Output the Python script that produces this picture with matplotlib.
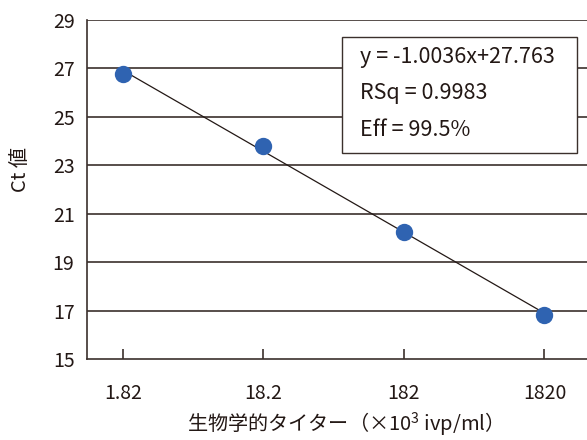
import numpy as np
import matplotlib
matplotlib.use('Agg')
import matplotlib.pyplot as plt

plt.rcParams['font.family'] = ['Noto Sans CJK JP', 'DejaVu Sans']
plt.rcParams['mathtext.fontset'] = 'custom'
plt.rcParams['mathtext.rm'] = 'Noto Sans CJK JP'

# data
titers = ['1.82', '18.2', '182', '1820']
ct_values = [26.77, 23.80, 20.23, 16.82]
fit_text = ['y = -1.0036x+27.763', 'RSq = 0.9983', 'Eff = 99.5%']

ink = '#3b302c'
txt = '#231815'
dot = '#2f63b1'

fig = plt.figure(figsize=(5.87, 4.40), dpi=100)
ax = fig.add_axes([87 / 587, 1 - 359 / 440, 520 / 587, 339 / 440])

idx = np.arange(len(titers))
# regression line over the data range
k, b = np.polyfit(idx, ct_values, 1)
ax.plot(idx, k * idx + b, color='#231815', lw=0.9, zorder=3)
ax.plot(idx, ct_values, 'o', color=dot, ms=12.5, mec='none', zorder=4)

ax.set_ylim(15, 29)
ax.set_yticks(range(15, 30, 2))
ax.set_xlim(-0.256, 3.445)
ax.set_xticks(idx)
ax.set_xticklabels(titers)

for y in range(17, 30, 2):
    ax.axhline(y, color=ink, lw=1.2, zorder=1)

for s in ['right', 'top']:
    ax.spines[s].set_visible(False)
for s in ['left', 'bottom']:
    ax.spines[s].set_color(ink)
    ax.spines[s].set_linewidth(1.2)

ax.tick_params(axis='y', length=0, pad=9, labelsize=14, labelcolor=txt)
ax.tick_params(axis='x', direction='in', length=7, width=1.2, color=ink,
               pad=17, labelsize=14, labelcolor=txt)

fig.text(340 / 587, 1 - 425 / 440, '生物学的タイター（×10$^3$ ivp/ml）',
         fontsize=14.5, color=txt, ha='center', va='center')
fig.text(20 / 587, 1 - 170 / 440, 'Ct 値', fontsize=14.5, color=txt,
         ha='center', va='center', rotation=90)

# equation box
fig.patches.append(plt.Rectangle((342 / 587, 1 - 153 / 440), 235 / 587, 116 / 440,
                                 transform=fig.transFigure, fc='white', ec=ink, lw=1.0,
                                 zorder=5))
for i, t in enumerate(fit_text):
    fig.text(360 / 587, 1 - (57 + i * 36.5) / 440, t, fontsize=15.5, color=txt,
             va='center', ha='left', zorder=6)

fig.savefig('out.png', dpi=100)
